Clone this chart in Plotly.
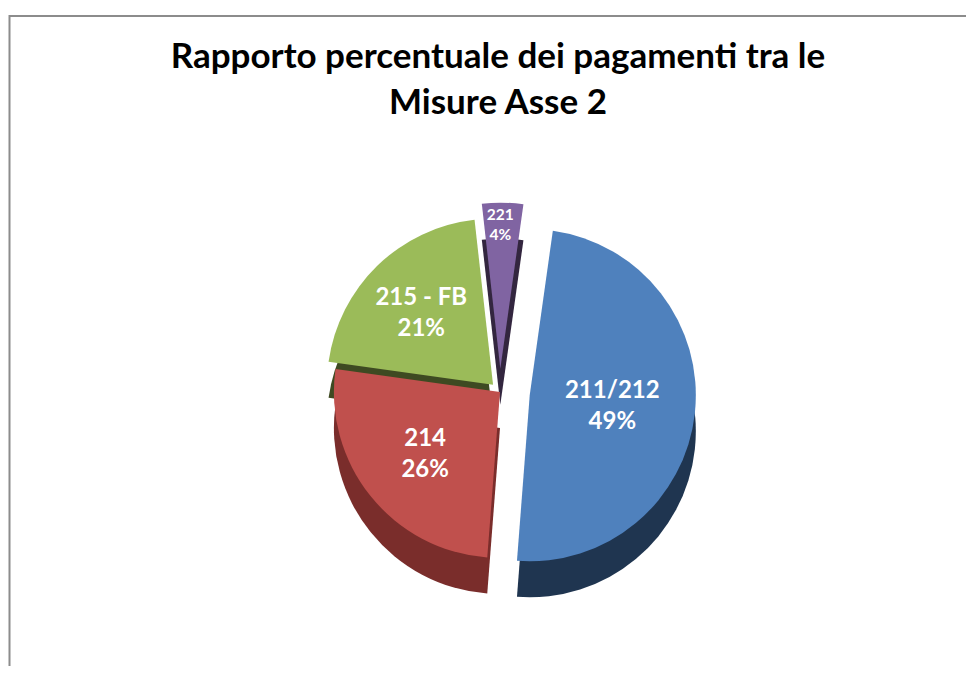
import plotly.graph_objects as go

labels = ["211/212", "214", "215 - FB", "221"]
values = [49, 26, 21, 4]
top_colors = ["#4F81BD", "#C0504D", "#9BBB59", "#8064A2"]
side_colors = ["#1F3550", "#7A2D2B", "#3E4A22", "#33263F"]
pulls = [0.18, 0.0, 0.06, 0.14]

OFF = 8  # page body margin in the browser
W, H = 974 - 2 * OFF, 674 - 2 * OFF

def fy(px):
    """screen pixel y -> paper fraction"""
    return 1 - (px - OFF) / H

def fx(px):
    return (px - OFF) / W

top_lo, top_hi = 588, 196
depth = 36

fig = go.Figure()

# depth (side) layer, offset downwards
fig.add_trace(go.Pie(
    labels=labels, values=values, sort=False, direction="clockwise", rotation=8,
    pull=pulls, marker=dict(colors=side_colors, line=dict(width=0)),
    textinfo="none", hoverinfo="skip", showlegend=False,
    domain=dict(x=[fx(60), fx(940)], y=[fy(top_lo + depth), fy(top_hi + depth)]),
))

# top face
fig.add_trace(go.Pie(
    labels=labels, values=values, sort=False, direction="clockwise", rotation=8,
    pull=pulls, marker=dict(colors=top_colors, line=dict(width=0)),
    texttemplate="%{label}<br>%{percent:.0%}", textposition="inside",
    insidetextorientation="horizontal",
    textfont=dict(family="Lato", size=24, color="white", weight="bold"),
    showlegend=False,
    domain=dict(x=[fx(60), fx(940)], y=[fy(top_lo), fy(top_hi)]),
))

fig.update_layout(
    width=W, height=H,
    margin=dict(l=0, r=0, t=0, b=0),
    paper_bgcolor="white",
    title=dict(
        text="Rapporto percentuale dei pagamenti tra le<br>Misure Asse 2",
        x=fx(498), xanchor="center", y=fy(68), yanchor="top",
        font=dict(family="Lato", size=35, color="black", weight="bold"),
    ),
    shapes=[
        dict(type="rect", xref="paper", yref="paper", layer="above",
             x0=1.5 / W, x1=1.02, y0=-0.02, y1=fy(16),
             line=dict(color="#8C8C8C", width=2)),
    ],
)

fig.write_html("out.html")
